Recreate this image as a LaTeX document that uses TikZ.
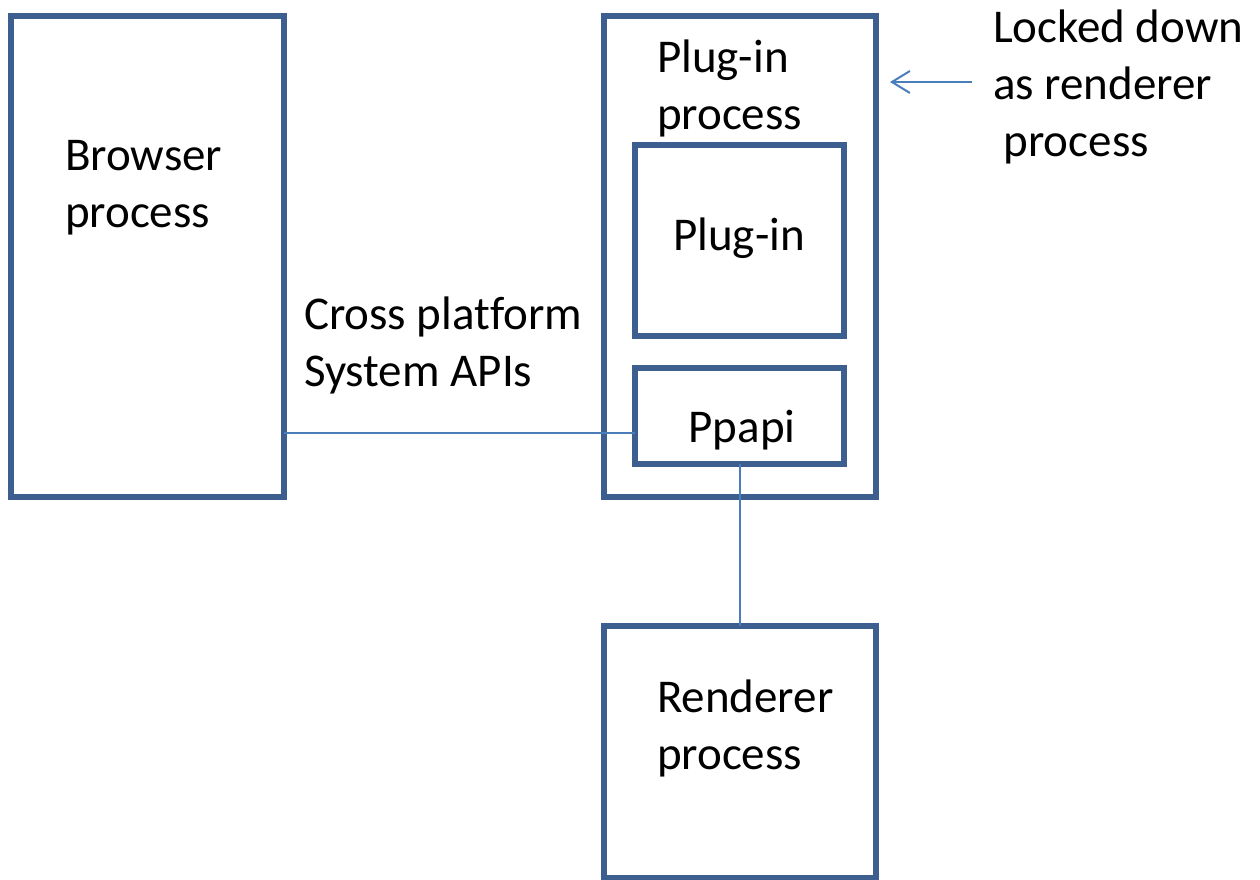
\documentclass[tikz,border=0pt]{standalone}
\usepackage{fontspec}
\setmainfont{Carlito}[Ligatures=NoCommon]
\usetikzlibrary{arrows.meta}
\definecolor{boxc}{RGB}{61,95,143}
\definecolor{linec}{RGB}{74,126,187}
\tikzset{
  box/.style={draw=boxc, line width=6pt, inner sep=0pt, outer sep=0pt, rectangle, anchor=north west},
  lbl/.style={font=\fontsize{47}{57}\selectfont, inner sep=0pt, outer sep=0pt, align=left, anchor=base west},
  conn/.style={draw=linec, line width=2pt},
}
\begin{document}
\begin{tikzpicture}[x=1pt,y=-1pt]
\useasboundingbox[fill=white] (0,0) rectangle (1260,880);
\node[box, minimum width=273pt, minimum height=481pt] (browser) at (11,16) {};
\node[box, minimum width=272pt, minimum height=481pt] (plugproc) at (604,16) {};
\node[box, minimum width=209pt, minimum height=191pt] (plugin) at (635,145) {};
\node[box, minimum width=209pt, minimum height=96pt] (ppapi) at (635,368) {};
\node[box, minimum width=272pt, minimum height=252pt] (renderer) at (604,626) {};

\node[lbl] (tbrowser) at (65,227) {Browser\\process};
\node[lbl] (tplugproc) at (657,130) {Plug-in\\process};
\node[lbl, anchor=base] (tplugin) at (739,250) {Plug-in};
\node[lbl, anchor=base] (tppapi) at (742,442) {Ppapi};
\node[lbl] (tcross) at (304,386) {Cross platform\\System APIs};
\node[lbl] (tlocked) at (993,157) {Locked down\\as renderer\\\ process};
\node[lbl] (trenderer) at (657,769) {Renderer\\process};

\draw[conn] (browser.east |- 0,433) -- (ppapi.west |- 0,433);
\draw[conn] (ppapi.south) -- (ppapi.south |- renderer.north);
\coordinate (arrowstart) at (972,82);
\draw[conn, -{Straight Barb[length=18pt,width=22pt,line width=2pt]}, shorten >=14pt] (arrowstart) -- (plugproc.east |- arrowstart);
\end{tikzpicture}
\end{document}
